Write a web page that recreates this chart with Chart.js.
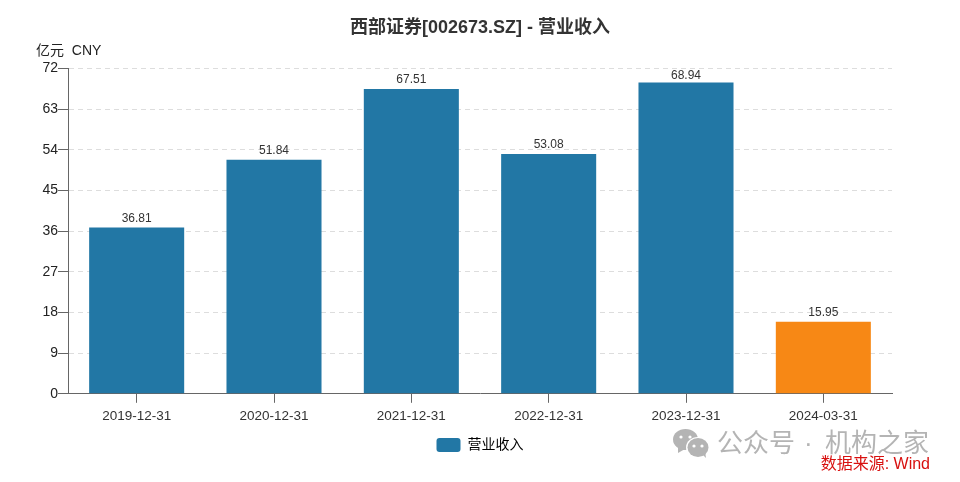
<!DOCTYPE html>
<html><head><meta charset="utf-8">
<style>html,body{margin:0;padding:0;background:#fff}#w{width:960px;height:482px;position:relative}</style>
<script src="https://cdn.jsdelivr.net/npm/chart.js@4"></script>
</head><body><div id="w"><canvas id="c" width="960" height="482"></canvas></div>
<script>
const categories = ['2019-12-31','2020-12-31','2021-12-31','2022-12-31','2023-12-31','2024-03-31'];
const revenue = [36.81,51.84,67.51,53.08,68.94,15.95];
const barColors = ['#2277a5','#2277a5','#2277a5','#2277a5','#2277a5','#f78815'];
const yTicks = [0,9,18,27,36,45,54,63,72];
const seriesName = '营业收入';
const titleText = '西部证券[002673.SZ] - 营业收入';
const unitText = '亿元  CNY';
const sourceText = '数据来源: Wind';
const watermarkLeft = '公众号';
const watermarkDot = '·';
const watermarkRight = '机构之家';
const FF = '"Liberation Sans","Noto Sans CJK SC",sans-serif';

const extras = {
  id:'extras',
  afterDatasetsDraw(ch){
    const c = ch.ctx, m = ch.getDatasetMeta(0);
    c.save();
    c.textAlign='center'; c.textBaseline='alphabetic';
    c.font='12px '+FF; c.fillStyle='#333';
    m.data.forEach((b,i)=>c.fillText(revenue[i].toFixed(2), b.x, Math.max(b.y-6,79)));
    c.restore();
  },
  afterDraw(ch){
    const c = ch.ctx;
    c.save();
    c.textBaseline='alphabetic'; c.textAlign='left';
    c.font='14px '+FF; c.fillStyle='#222';
    c.fillText(unitText,36,55);
    c.font='26px '+FF; c.fillStyle='#b4b4b4';
    c.fillText(watermarkLeft,717,452);
    c.fillText(watermarkDot,804,452);
    c.fillText(watermarkRight,825,452);
    const bub=(x,y,rx,ry)=>{c.beginPath();c.ellipse(x,y,rx,ry,0,0,Math.PI*2);c.fill();};
    bub(685.5,439.5,12.5,10.5);
    c.beginPath();c.moveTo(678,447);c.lineTo(678,453);c.lineTo(685,449);c.fill();
    c.fillStyle='#fff'; bub(698,447.5,12,10.5);
    c.fillStyle='#b4b4b4'; bub(698,447.5,10.5,9.5);
    c.beginPath();c.moveTo(702,454);c.lineTo(706,458);c.lineTo(705,451);c.fill();
    c.fillStyle='#fff';
    [[681,437],[690,437],[694,446],[702,446]].forEach(p=>bub(p[0],p[1],1.6,1.6));
    c.font='16px '+FF; c.fillStyle='#d8100f'; c.textAlign='right';
    c.fillText(sourceText,930,469);
    c.restore();
  }
};

new Chart(document.getElementById('c'),{
  type:'bar',
  data:{labels:categories,datasets:[{label:seriesName,data:revenue,backgroundColor:barColors,
    barPercentage:0.692,categoryPercentage:1}]},
  plugins:[extras],
  options:{
    responsive:false,animation:false,
    layout:{padding:{left:0,right:0,top:17,bottom:20}},
    plugins:{
      tooltip:{enabled:false},
      title:{display:true,text:titleText,color:'#333',font:{family:FF,size:18,weight:'bold'},padding:{top:0,bottom:30}},
      legend:{position:'bottom',labels:{
        boxWidth:24,boxHeight:14,padding:9,color:'#333',font:{family:FF,size:14},useBorderRadius:true,borderRadius:3,
        generateLabels:()=>[{text:seriesName,fillStyle:barColors[0],strokeStyle:barColors[0],lineWidth:0,borderRadius:3,datasetIndex:0}]
      }}
    },
    scales:{
      x:{
        grid:{offset:false,drawOnChartArea:false,tickColor:'#666',tickLength:9,color:'#666'},
        border:{color:'#666',width:1},
        ticks:{color:'#333',font:{family:FF,size:13.5},padding:5,maxRotation:0,autoSkip:false}
      },
      y:{
        min:0,max:72,
        afterBuildTicks(a){a.ticks=yTicks.map(v=>({value:v}));},
        afterFit(a){a.width=68;},
        grid:{color:'#dddddd',tickColor:'#666',tickLength:10,drawTicks:true},
        border:{color:'#666',width:1,dash:[5,4]},
        ticks:{color:'#222',font:{family:FF,size:14},padding:0}
      },
      pad:{
        position:'right',display:true,
        afterFit(a){a.width=68;},
        grid:{display:false},border:{display:false},ticks:{display:false}
      }
    }
  }
});
</script></body></html>
